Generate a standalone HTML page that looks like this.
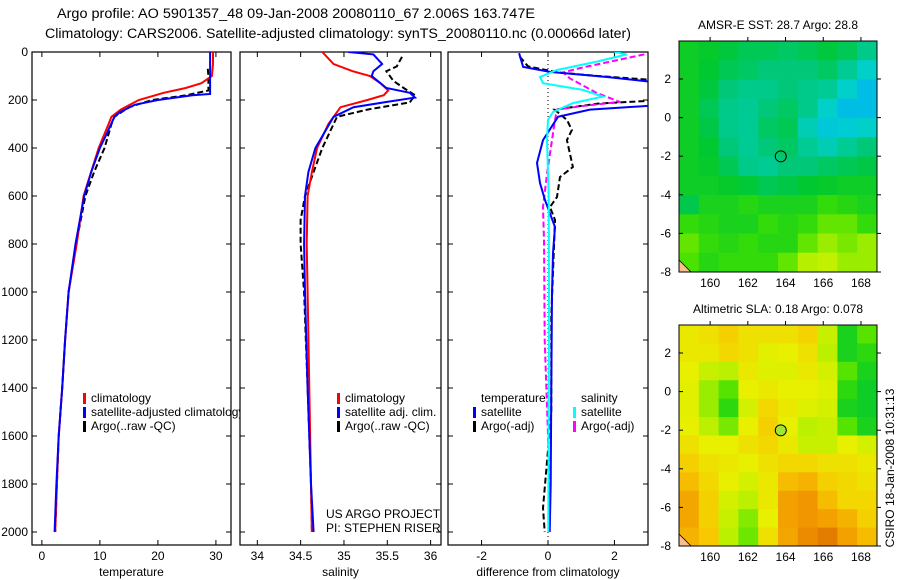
<!DOCTYPE html>
<html><head><meta charset="utf-8"><style>
html,body{margin:0;padding:0;background:#fff;}
svg{display:block;font-family:"Liberation Sans",sans-serif;}
</style></head><body>
<svg id="fig" width="900" height="580" viewBox="0 0 900 580">
<text x="57" y="18" font-size="13.5" textLength="478" lengthAdjust="spacingAndGlyphs">Argo profile: AO 5901357_48 09-Jan-2008 20080110_67 2.006S 163.747E</text>
<text x="45" y="38" font-size="13.5" textLength="586" lengthAdjust="spacingAndGlyphs">Climatology: CARS2006. Satellite-adjusted climatology: synTS_20080110.nc (0.00066d later)</text>
<g id="plots"></g>
<text transform="translate(894,468) rotate(-90)" font-size="12" text-anchor="middle">CSIRO 18-Jan-2008 10:31:13</text>
</svg>
<script>
// ---------- data ----------
const depthTicks = [0,200,400,600,800,1000,1200,1400,1600,1800,2000];
const tempTicks = [0,10,20,30];
const salTicks = [34,34.5,35,35.5,36];
const diffTicks = [-2,0,2];

const tClimDepth = [0,50,100,130,150,170,200,240,270,300,400,600,800,1000,1200,1400,1600,1800,2000];
const tClimVal   = [29.5,29.5,29.3,27.5,24.8,21,16.7,13.6,12,11.5,9.8,7.2,6,4.6,4,3.5,2.9,2.6,2.3];
const tSatDepth = [0,100,175,180,200,220,250,270,350,400,500,600,800,1000,1200,1400,1600,1800,2000];
const tSatVal   = [29,29,29,26,20,16,13.5,12.5,11,10,8.5,7.3,5.8,4.6,4,3.5,2.9,2.5,2.2];
const tArgoDepth = [70,100,160,180,200,230,270,300,400,500,600,800,1000,1200,1400,1600,1800,2000];
const tArgoVal   = [28.6,28.7,28.7,25,19,15,12.5,12,10.8,9,7.5,5.9,4.6,4,3.5,2.9,2.6,2.3];

const sClimDepth = [0,50,80,100,130,160,180,200,230,270,300,400,500,600,800,1000,1400,1800,2000];
const sClimVal   = [34.75,34.88,35.1,35.3,35.42,35.51,35.46,35.27,34.96,34.88,34.82,34.69,34.63,34.58,34.57,34.58,34.6,34.62,34.63];
const sSatDepth = [0,10,50,80,100,130,150,170,190,210,230,270,400,500,600,800,1000,1400,1600,1800,2000];
const sSatVal   = [35.05,35.34,35.44,35.34,35.32,35.42,35.49,35.76,35.82,35.46,35.11,34.88,34.67,34.59,34.55,34.54,34.55,34.58,34.6,34.62,34.65];
const sArgoDepth = [20,60,80,120,150,180,210,240,270,400,500,600,700,800,1000,1400,1800,2000];
const sArgoVal   = [35.67,35.61,35.49,35.57,35.69,35.82,35.76,35.27,34.92,34.75,34.65,34.55,34.5,34.5,34.54,34.58,34.62,34.63];

const dTSatDepth = [5,62,83,104,130,220,240,270,367,462,546,617,729,838,1004,1400,1800,2000];
const dTSatVal   = [-0.87,-0.75,0.06,1.77,3.5,3.5,1.26,0.3,-0.15,-0.33,-0.24,-0.09,0.21,0.15,0.12,0.1,0.08,0.05];
const dTArgoDepth = [20,60,85,100,120,200,215,240,283,325,367,479,521,604,646,700,1100,1500,1900,2000];
const dTArgoVal   = [-0.85,-0.6,0.3,1.5,3.5,3.5,1.5,0.2,0.57,0.72,0.57,0.75,0.36,0.27,0.06,0.21,0.1,0.1,-0.15,-0.1];
const dSSatDepth = [0,10,40,75,104,130,158,186,213,250,283,367,600,1000,1500,2000];
const dSSatVal   = [2.0,2.37,1.47,0.27,-0.24,-0.15,1.05,1.65,0.75,0.15,0,-0.03,0.02,0.03,0.02,0.01];
const dSArgoDepth = [10,67,85,110,171,208,225,240,283,367,508,646,784,1200,1800,2000];
const dSArgoVal   = [2.9,0.96,0.45,0.66,1.47,2.16,1.05,0.27,0.21,0.12,-0.03,-0.15,-0.12,-0.1,0.05,0.02];

const latTicks = [2,0,-2,-4,-6,-8];
const lonTicks = [160,162,164,166,168];
const sstGrid = [
[0.42,0.41,0.38,0.35,0.35,0.33,0.35,0.38,0.35,0.27],
[0.42,0.4,0.35,0.33,0.3,0.3,0.3,0.33,0.25,0.16],
[0.42,0.38,0.3,0.27,0.27,0.3,0.27,0.25,0.16,0.08],
[0.42,0.35,0.27,0.25,0.3,0.33,0.27,0.16,0.08,0.08],
[0.42,0.37,0.27,0.25,0.33,0.35,0.2,0.12,0.14,0.16],
[0.42,0.4,0.3,0.25,0.3,0.33,0.25,0.2,0.25,0.3],
[0.42,0.41,0.35,0.27,0.25,0.3,0.3,0.33,0.35,0.37],
[0.42,0.42,0.41,0.39,0.35,0.37,0.4,0.41,0.42,0.42],
[0.36,0.44,0.44,0.46,0.44,0.44,0.44,0.48,0.46,0.44],
[0.48,0.46,0.44,0.44,0.48,0.46,0.48,0.53,0.53,0.48],
[0.53,0.48,0.46,0.48,0.46,0.46,0.53,0.58,0.55,0.58],
[0.51,0.46,0.48,0.48,0.48,0.53,0.61,0.63,0.58,0.58]];
const slaGrid = [
[0.72,0.74,0.78,0.74,0.74,0.74,0.77,0.64,0.44,0.52],
[0.72,0.72,0.76,0.74,0.69,0.7,0.74,0.62,0.44,0.47],
[0.7,0.64,0.62,0.72,0.68,0.68,0.72,0.66,0.52,0.44],
[0.69,0.58,0.52,0.7,0.72,0.7,0.7,0.68,0.47,0.42],
[0.69,0.58,0.47,0.66,0.76,0.72,0.68,0.66,0.44,0.42],
[0.7,0.62,0.55,0.7,0.78,0.7,0.62,0.64,0.52,0.44],
[0.74,0.7,0.7,0.74,0.76,0.72,0.64,0.64,0.7,0.66],
[0.78,0.74,0.72,0.7,0.74,0.76,0.76,0.74,0.74,0.72],
[0.82,0.76,0.7,0.66,0.72,0.82,0.84,0.78,0.76,0.74],
[0.86,0.78,0.66,0.62,0.72,0.87,0.89,0.82,0.76,0.76],
[0.86,0.78,0.64,0.56,0.7,0.87,0.89,0.87,0.84,0.78],
[0.84,0.8,0.62,0.54,0.74,0.86,0.91,0.94,0.87,0.82]];
const argoLon = 163.747, argoLat = -2.006;

// ---------- drawing ----------
const NS = "http://www.w3.org/2000/svg";
const root = document.getElementById('plots');
function mk(tag, attrs, parent){ const e=document.createElementNS(NS,tag); for(const k in attrs) e.setAttribute(k,attrs[k]); (parent||root).appendChild(e); return e; }

const yTop=52, yBot=545;
const yD = d => 52 + d*0.24;

function panel(name, x0, x1, vmin, vmax, ticks, xlabel, showY){
  const g = mk('g',{});
  
  
  const sx = v => x0 + (v - vmin)/(vmax - vmin)*(x1 - x0);
  mk('rect',{x:x0,y:yTop,width:x1-x0,height:yBot-yTop,fill:'#fff',stroke:'#000','stroke-width':1.2},g);
  depthTicks.forEach(d=>{
    const y=yD(d);
    mk('line',{x1:x0,y1:y,x2:x0+5,y2:y,stroke:'#000'},g);
    mk('line',{x1:x1,y1:y,x2:x1-5,y2:y,stroke:'#000'},g);
    if(showY){ const t=mk('text',{x:x0-4,y:y+4,'font-size':12,'text-anchor':'end'},g); t.textContent=d;
        }
  });
  ticks.forEach(v=>{
    const x=sx(v);
    mk('line',{x1:x,y1:yBot,x2:x,y2:yBot-5,stroke:'#000'},g);
    mk('line',{x1:x,y1:yTop,x2:x,y2:yTop+5,stroke:'#000'},g);
    const t=mk('text',{x:x,y:yBot+15,'font-size':12,'text-anchor':'middle'},g); t.textContent=v;
     
  });
  const xl=mk('text',{x:(x0+x1)/2,y:yBot+31,'font-size':12,'text-anchor':'middle'},g); xl.textContent=xlabel;
   
  return {g,sx};
}
function series(p, name, depths, vals, color, dash, w){
  const pts = depths.map((d,i)=>p.sx(vals[i]).toFixed(1)+','+yD(d).toFixed(1)).join(' ');
  const e = mk('polyline',{points:pts,fill:'none',stroke:color,'stroke-width':w||2,'stroke-dasharray':dash||'none'},p.g);
  
  
}
function legend(g, x, y, color, label, name){
  mk('rect',{x:x,y:y-9,width:3,height:11,fill:color},g);
  const t=mk('text',{x:x+8,y:y,'font-size':12},g); t.textContent=label;
  
  
}

const defs = mk('defs',{});
[[32,231,'c1'],[240,441,'c2'],[448,648,'c3']].forEach(a=>{
  const cp=mk('clipPath',{id:a[2]},defs); mk('rect',{x:a[0],y:yTop,width:a[1]-a[0],height:yBot-yTop},cp);
});

const p1 = panel('temperature-panel',32,231,-1.7,32.6,tempTicks,'temperature',true);
const c1 = mk('g',{'clip-path':'url(#c1)'},p1.g); const q1={g:c1,sx:p1.sx};
series(q1,'temp-argo-line',tArgoDepth,tArgoVal,'#000','6,3',2);
series(q1,'temp-climatology-line',tClimDepth,tClimVal,'#f00');
series(q1,'temp-satellite-line',tSatDepth,tSatVal,'#00f');
legend(p1.g,83,402,'#f00','climatology','legend-climatology');
legend(p1.g,83,416,'#00f','satellite-adjusted climatology','legend-satellite-adjusted');
legend(p1.g,83,430,'#000','Argo(..raw -QC)','legend-argo');

const p2 = panel('salinity-panel',240,441,33.8,36.12,salTicks,'salinity',false);
const c2 = mk('g',{'clip-path':'url(#c2)'},p2.g); const q2={g:c2,sx:p2.sx};
series(q2,'sal-argo-line',sArgoDepth,sArgoVal,'#000','6,3',2);
series(q2,'sal-climatology-line',sClimDepth,sClimVal,'#f00');
series(q2,'sal-satellite-line',sSatDepth,sSatVal,'#00f');
legend(p2.g,337,402,'#f00','climatology','legend-sal-climatology');
legend(p2.g,337,416,'#00f','satellite adj. clim.','legend-sal-satellite');
legend(p2.g,337,430,'#000','Argo(..raw -QC)','legend-sal-argo');
const us=mk('text',{x:326,y:518,'font-size':12},p2.g); us.textContent='US ARGO PROJECT';
 
const pi=mk('text',{x:326,y:532,'font-size':12},p2.g); pi.textContent='PI: STEPHEN RISER';
 

const p3 = panel('difference-panel',448,648,-3.01,3.01,diffTicks,'difference from climatology',false);
mk('line',{x1:p3.sx(0),y1:yTop,x2:p3.sx(0),y2:yBot,stroke:'#000','stroke-dasharray':'1,3'},p3.g);
const c3 = mk('g',{'clip-path':'url(#c3)'},p3.g); const q3={g:c3,sx:p3.sx};
series(q3,'diff-temp-argo-line',dTArgoDepth,dTArgoVal,'#000','6,3',2);
series(q3,'diff-sal-argo-line',dSArgoDepth,dSArgoVal,'#f0f','6,3',2);
series(q3,'diff-temp-satellite-line',dTSatDepth,dTSatVal,'#00f');
series(q3,'diff-sal-satellite-line',dSSatDepth,dSSatVal,'#0ff');
const lt=mk('text',{x:481,y:402,'font-size':12},p3.g); lt.textContent='temperature';
 
const ls=mk('text',{x:581,y:402,'font-size':12},p3.g); ls.textContent='salinity';
 
legend(p3.g,473,416,'#00f','satellite','legend-diff-temp-satellite');
legend(p3.g,473,430,'#000','Argo(-adj)','legend-diff-temp-argo');
legend(p3.g,573,416,'#0ff','satellite','legend-diff-sal-satellite');
legend(p3.g,573,430,'#f0f','Argo(-adj)','legend-diff-sal-argo');

// ---------- maps ----------
const stops=[[0,[0,168,255]],[0.15,[0,208,208]],[0.3,[0,200,120]],[0.4,[0,200,48]],[0.5,[64,224,0]],[0.6,[176,240,0]],[0.7,[232,240,0]],[0.8,[248,200,0]],[0.9,[240,144,0]],[1,[208,96,0]]];
function cmap(t){
  for(let i=1;i<stops.length;i++){ if(t<=stops[i][0]){ const a=stops[i-1],b=stops[i]; const f=(t-a[0])/(b[0]-a[0]);
    return 'rgb('+a[1].map((c,k)=>Math.round(c+(b[1][k]-c)*f)).join(',')+')'; } }
  return 'rgb(208,96,0)';
}
function map(name, top, bot, grid, title, dotFill){
  const g=mk('g',{});
  
  
  const x0=679,x1=877, lon0=158.35, lon1=168.85, latBot=-8;
  const latTop = latBot + (bot-top)/19.3;
  const sx=v=>x0+(v-lon0)/(lon1-lon0)*(x1-x0);
  const sy=v=>top+(latTop-v)/(latTop-latBot)*(bot-top);
  const nr=grid.length, nc=grid[0].length;
  const dlon=(lon1-lon0)/nc, dlat=(latTop-latBot)/nr;
  grid.forEach((row,r)=>row.forEach((v,c)=>{
    const xa=sx(lon0+c*dlon), xb=sx(lon0+(c+1)*dlon), ya=sy(latTop-r*dlat), yb=sy(latTop-(r+1)*dlat);
    const cell=mk('rect',{x:xa,y:ya,width:xb-xa+0.5,height:yb-ya+0.5,fill:cmap(v)},g);
    
    
  }));
  mk('path',{d:`M${x0},${bot-12} L${x0+12},${bot} L${x0},${bot} Z`,fill:'#f8c090',stroke:'#000','stroke-width':0.8},g);
  mk('rect',{x:x0,y:top,width:x1-x0,height:bot-top,fill:'none',stroke:'#000','stroke-width':1},g);
  latTicks.forEach(v=>{ const y=sy(v);
    mk('line',{x1:x0,y1:y,x2:x0+4,y2:y,stroke:'#000'},g); mk('line',{x1:x1,y1:y,x2:x1+4,y2:y,stroke:'#000'},g);
    const t=mk('text',{x:x0-8,y:y+4,'font-size':12,'text-anchor':'end'},g); t.textContent=v;
      });
  lonTicks.forEach(v=>{ const x=sx(v);
    mk('line',{x1:x,y1:top,x2:x,y2:top-4,stroke:'#000'},g);
    const t=mk('text',{x:x,y:bot+15,'font-size':12,'text-anchor':'middle'},g); t.textContent=v;
      });
  const tt=mk('text',{x:(x0+x1)/2,y:top-12,'font-size':12,'text-anchor':'middle'},g); tt.textContent=title;
   
  const dot=mk('circle',{cx:sx(argoLon),cy:sy(argoLat),r:5.5,fill:dotFill,stroke:'#000','stroke-width':1},g);
  
  
}
map('sst-map',41,272,sstGrid,'AMSR-E SST: 28.7  Argo: 28.8','none');
map('sla-map',325,546,slaGrid,'Altimetric SLA: 0.18  Argo: 0.078','#a0e830');
</script>
</body></html>
